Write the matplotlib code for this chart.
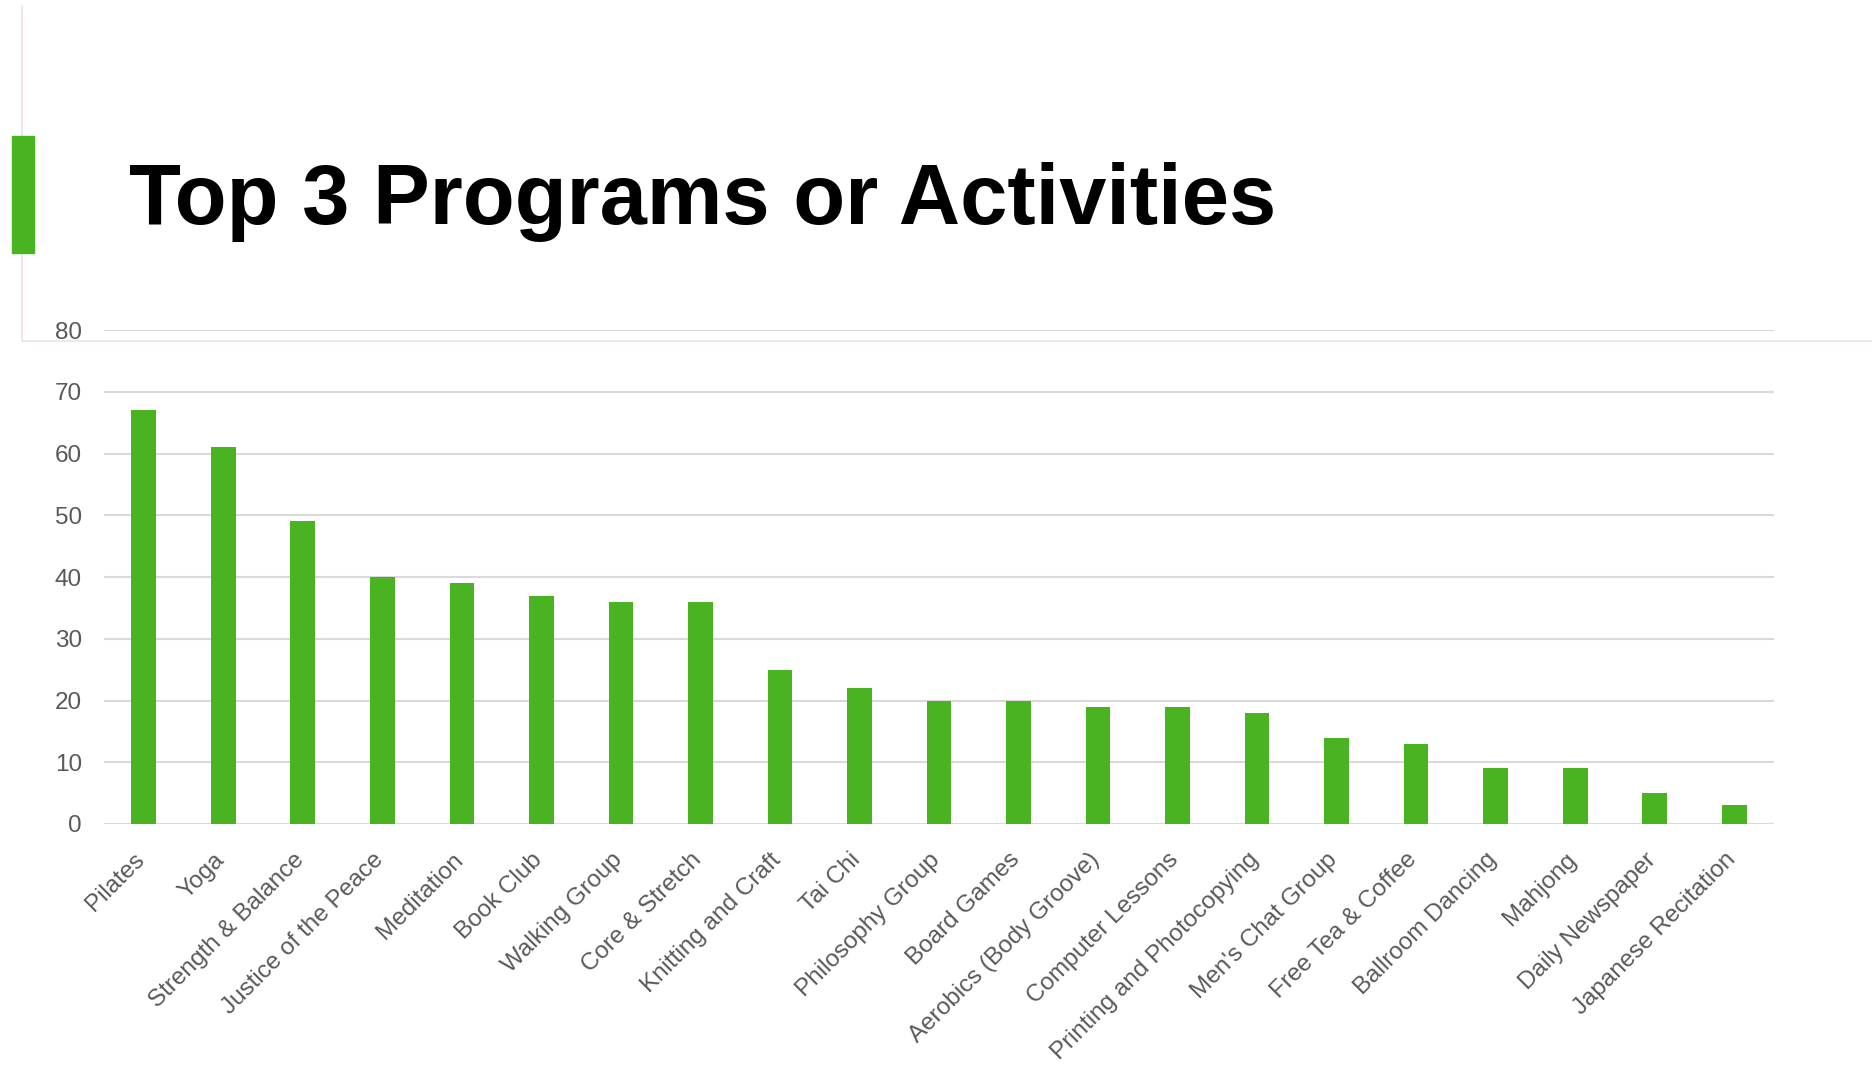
import matplotlib.pyplot as plt
import matplotlib.transforms as mtransforms
from matplotlib.patches import Rectangle
from matplotlib.lines import Line2D

plt.rcParams['font.family'] = ['Liberation Sans', 'DejaVu Sans']

activities = ["Pilates", "Yoga", "Strength & Balance", "Justice of the Peace",
              "Meditation", "Book Club", "Walking Group", "Core & Stretch",
              "Knitting and Craft", "Tai Chi", "Philosophy Group", "Board Games",
              "Aerobics (Body Groove)", "Computer Lessons", "Printing and Photocopying",
              "Men's Chat Group", "Free Tea & Coffee", "Ballroom Dancing", "Mahjong",
              "Daily Newspaper", "Japanese Recitation"]
counts = [67, 61, 49, 40, 39, 37, 36, 36, 25, 22, 20, 20, 19, 19, 18, 14, 13, 9, 9, 5, 3]
yticks = [0, 10, 20, 30, 40, 50, 60, 70, 80]

green = '#4ab321'
grid = '#d9d9d9'
tick_col = '#595959'

fig = plt.figure(figsize=(18.72, 10.66), dpi=100)

# slide decorations
fig.add_artist(Line2D([21.7/1872, 21.7/1872], [1 - 6/1066, 1 - 340.5/1066],
                      color='#f0e2e6', lw=1.2, transform=fig.transFigure, zorder=1))
fig.add_artist(Line2D([21.7/1872, 1.0], [1 - 340.5/1066, 1 - 340.5/1066],
                      color='#f0e2e6', lw=1.2, transform=fig.transFigure, zorder=1))
fig.add_artist(Rectangle((12/1872, 1 - 253/1066), 22/1872, 117/1066,
                         color=green, transform=fig.transFigure, zorder=5))
fig.text(129/1872, 1 - 224/1066, "Top 3 Programs or Activities", fontsize=61.2,
         fontweight='bold', color='black', ha='left', va='baseline')

ax = fig.add_axes([104/1872, 1 - 824/1066, 1670/1872, 494/1066])
x = range(len(activities))
ax.bar(x, counts, width=0.31, color=green, zorder=3)

ax.set_ylim(0, 80)
ax.set_xlim(-0.5, len(activities) - 0.5)
ax.set_yticks(yticks)
ax.yaxis.grid(True, color=grid, lw=1.5, zorder=0)
ax.tick_params(axis='both', length=0, labelsize=17.5, colors=tick_col)
ax.tick_params(axis='y', pad=16)
for s in ax.spines.values():
    s.set_visible(False)

ax.set_xticks(list(x))
ax.set_xticklabels(activities, rotation=45, ha='right', rotation_mode='anchor')
ax.tick_params(axis='x', pad=12)
shift = mtransforms.ScaledTranslation(-10/100, -8/100, fig.dpi_scale_trans)
for lbl in ax.get_xticklabels():
    lbl.set_transform(lbl.get_transform() + shift)

fig.savefig('out.png', dpi=100, facecolor='white')
